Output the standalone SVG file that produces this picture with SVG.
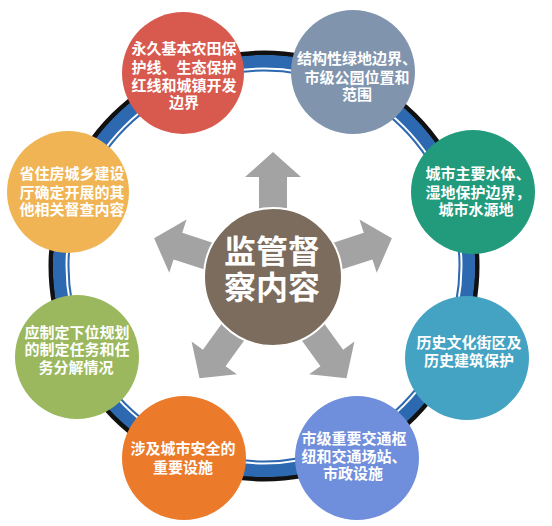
<svg xmlns="http://www.w3.org/2000/svg" width="552" height="526" viewBox="0 0 552 526">
<style>
.lbl{font-family:"Noto Sans CJK SC","Noto Sans",sans-serif;font-weight:bold;font-size:15px;fill:#fff;text-anchor:middle}
.ctr{font-family:"Noto Sans CJK SC","Noto Sans",sans-serif;font-weight:bold;font-size:32px;fill:#fff;text-anchor:middle}
.arrow{fill:#a3a3a3}
</style>
<defs>
<path id="arr" d="M -14,-60 L -14,-100 L -28,-100 L 0,-125 L 28,-100 L 14,-100 L 14,-60 Z"/>
</defs>
<rect width="552" height="526" fill="#fff"/>
<g id="ring" fill="none">
<circle cx="264" cy="266" r="213" stroke="#111" stroke-width="5"/>
<circle cx="264" cy="266" r="204" stroke="#2d69b0" stroke-width="14"/>
<circle cx="264" cy="266" r="197.5" stroke="#fff" stroke-width="2"/>
<circle cx="264" cy="266" r="195.5" stroke="#2d69b0" stroke-width="2"/>
</g>
<g id="connectors" class="arrow">
<use href="#arr" transform="translate(273 277) rotate(0)"/>
<use href="#arr" transform="translate(273 277) rotate(72)"/>
<use href="#arr" transform="translate(273 277) rotate(144)"/>
<use href="#arr" transform="translate(273 277) rotate(216)"/>
<use href="#arr" transform="translate(273 277) rotate(288)"/>
</g>
<g id="center">
<circle cx="273" cy="277" r="69" fill="#7b6c5d" stroke="#fff" stroke-width="2"/>
<text class="ctr" x="272" y="263">监管督</text>
<text class="ctr" x="272" y="299">察内容</text>
</g>
<g id="n1">
<circle cx="183" cy="73" r="61" fill="#d85a4f"/>
<text class="lbl" x="184" y="54">永久基本农田保</text>
<text class="lbl" x="184" y="73">护线、生态保护</text>
<text class="lbl" x="184" y="91">红线和城镇开发</text>
<text class="lbl" x="184" y="108">边界</text>
</g>
<g id="n2">
<circle cx="353" cy="72" r="62" fill="#8094ae"/>
<text class="lbl" x="357" y="64">结构性绿地边界、</text>
<text class="lbl" x="357" y="83">市级公园位置和</text>
<text class="lbl" x="357" y="100">范围</text>
</g>
<g id="n3">
<circle cx="473" cy="192" r="62" fill="#229b7c"/>
<text class="lbl" x="478" y="179">城市主要水体、</text>
<text class="lbl" x="478" y="198">湿地保护边界，</text>
<text class="lbl" x="476" y="215">城市水源地</text>
</g>
<g id="n4">
<circle cx="467" cy="358" r="62" fill="#44a3c2"/>
<text class="lbl" x="469" y="348">历史文化街区及</text>
<text class="lbl" x="469" y="366">历史建筑保护</text>
</g>
<g id="n5">
<circle cx="357" cy="458" r="62" fill="#6f8edb"/>
<text class="lbl" x="354" y="444">市级重要交通枢</text>
<text class="lbl" x="354" y="462">纽和交通场站、</text>
<text class="lbl" x="353" y="479">市政设施</text>
</g>
<g id="n6">
<circle cx="184" cy="458" r="62" fill="#eb7b2a"/>
<text class="lbl" x="183" y="454">涉及城市安全的</text>
<text class="lbl" x="183" y="473">重要设施</text>
</g>
<g id="n7">
<circle cx="77" cy="357" r="62" fill="#9bb85e"/>
<text class="lbl" x="77" y="338">应制定下位规划</text>
<text class="lbl" x="77" y="355">的制定任务和任</text>
<text class="lbl" x="76" y="373">务分解情况</text>
</g>
<g id="n8">
<circle cx="68" cy="192" r="61" fill="#f0b455"/>
<text class="lbl" x="72" y="179">省住房城乡建设</text>
<text class="lbl" x="72" y="198">厅确定开展的其</text>
<text class="lbl" x="72" y="215">他相关督查内容</text>
</g>
</svg>
